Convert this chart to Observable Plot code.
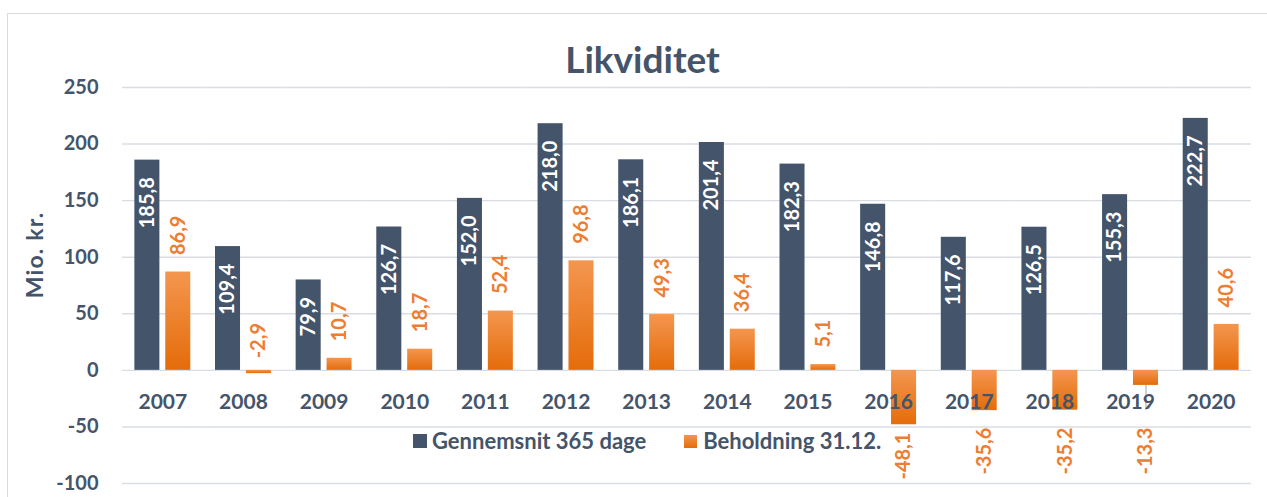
<!DOCTYPE html>
<html><head><meta charset="utf-8">
<script src="https://cdn.jsdelivr.net/npm/d3@7"></script>
<script src="https://cdn.jsdelivr.net/npm/@observablehq/plot@0.6"></script>
<style>
html,body{margin:0;padding:0;overflow:hidden;background:#fff;width:1267px;height:497px}
#wrap{position:relative;width:1267px;height:497px;font-family:Lato,sans-serif;color:#44546A}
#frame{position:absolute;left:7px;top:13px;width:1400px;height:600px;border:1.5px solid #D9D9D9;box-sizing:border-box}
#chart{position:absolute;left:0;top:0}
#chart svg text{font-weight:700}
#title{position:absolute;left:0;width:1285px;top:37px;text-align:center;font-weight:700;font-size:37px;line-height:44px}
#ylab{position:absolute;left:34px;top:255px;transform:translate(-50%,-50%) rotate(-90deg);font-weight:700;font-size:23px;letter-spacing:1.2px;line-height:26px;white-space:nowrap}
#legend{position:absolute;left:413px;top:428px;display:flex;align-items:center;font-weight:700;font-size:22px;line-height:26px;white-space:nowrap}
.sw{display:inline-block;width:14px;height:14px;margin-right:5px}
</style>
</head><body>
<div id="wrap">
  <div id="frame"></div>
  <div id="chart"></div>
  <div id="title"></div>
  <div id="ylab"></div>
  <div id="legend"></div>
</div>
<script>
const chartTitle = "Likviditet";
const yLabel = "Mio. kr.";
const years = ["2007","2008","2009","2010","2011","2012","2013","2014","2015","2016","2017","2018","2019","2020"];
const gennemsnit = [185.8,109.4,79.9,126.7,152.0,218.0,186.1,201.4,182.3,146.8,117.6,126.5,155.3,222.7];
const beholdning = [86.9,-2.9,10.7,18.7,52.4,96.8,49.3,36.4,5.1,-48.1,-35.6,-35.2,-13.3,40.6];
const seriesNames = ["Gennemsnit 365 dage","Beholdning 31.12."];
const seriesKeys = ["G","B"];
const yTicks = [250,200,150,100,50,0,-50,-100];

const DARK = "#44546A", ORANGE = "#ED7D31", GRID = "#D9DDE3";

const G = years.map((y,i)=>({year:y, series:"G", value:gennemsnit[i]}));
const B = years.map((y,i)=>({year:y, series:"B", value:beholdning[i]}));
const fmt = v => v.toFixed(1).replace(".", ",");
// label anchor for negative orange bars (avoid year labels)
const negPos = v => Math.max(Math.min(v, -35.5), -40);
const Bpos = B.filter(d => d.value >= 0);
const Bsmall = B.filter(d => d.value < 0 && d.value > -5);
const Bneg = B.filter(d => d.value <= -5);
const Blead = Bneg.filter(d => negPos(d.value) < d.value - 10);

const plot = Plot.plot({
  width: 1267, height: 497,
  marginLeft: 122, marginRight: 16, marginTop: 87, marginBottom: 14,
  style: {fontFamily: "Lato, sans-serif", background: "transparent", color: DARK, fontSize: "20px"},
  fx: {domain: years, padding: 0, round: false, axis: null},
  x: {domain: seriesKeys, paddingInner: 0.19, paddingOuter: 0.4, round: false, axis: null},
  y: {domain: [-100, 250], axis: null},
  marks: [
    Plot.ruleY(yTicks, {stroke: GRID, strokeWidth: 1.4}),
    Plot.axisY(yTicks, {tickSize: 0, tickPadding: 24, label: null, fontSize: 20, fill: DARK, tickFormat: d => String(d)}),
    Plot.barY(G, {fx: "year", x: "series", y: "value", fill: DARK}),
    Plot.barY(B, {fx: "year", x: "series", y: "value", fill: "url(#og)"}),
    Plot.ruleX(Blead, {fx: "year", x: "series", y1: "value", y2: d => negPos(d.value), stroke: "#A9B4C2", strokeWidth: 1.2}),
    Plot.text(years, {fx: d => d, y: () => 0, text: d => d, dy: 32, fontSize: 21, fill: DARK}),
    Plot.text(G, {fx: "year", x: "series", y: "value", text: d => fmt(d.value), rotate: -90, textAnchor: "end", dy: 17, fill: "white", fontSize: 20}),
    Plot.text(Bpos, {fx: "year", x: "series", y: "value", text: d => fmt(d.value), rotate: -90, textAnchor: "start", dy: -17, fill: ORANGE, fontSize: 20}),
    Plot.text(Bsmall, {fx: "year", x: "series", y: () => 0, text: d => fmt(d.value), rotate: -90, textAnchor: "start", dy: -12, fill: ORANGE, fontSize: 20}),
    Plot.text(Bneg, {fx: "year", x: "series", y: d => negPos(d.value), text: d => fmt(d.value), rotate: -90, textAnchor: "end", dy: 17, fill: ORANGE, fontSize: 20})
  ]
});

const defs = d3.select(plot).insert("defs", ":first-child");
const grad = defs.append("linearGradient").attr("id", "og").attr("x1", 0).attr("y1", 0).attr("x2", 0).attr("y2", 1);
grad.append("stop").attr("offset", "0%").attr("stop-color", "#F4964F");
grad.append("stop").attr("offset", "100%").attr("stop-color", "#E46C0A");

document.getElementById("chart").appendChild(plot);
document.getElementById("title").textContent = chartTitle;
document.getElementById("ylab").textContent = yLabel;

const legend = document.getElementById("legend");
const swatches = [DARK, "linear-gradient(#F4964F,#E46C0A)"];
seriesNames.forEach((name, i) => {
  const sw = document.createElement("span");
  sw.className = "sw";
  sw.style.background = swatches[i];
  if (i > 0) { sw.style.marginLeft = "38px"; sw.style.width = "13px"; sw.style.height = "13px"; sw.style.marginRight = "6px"; }
  const t = document.createElement("span");
  t.textContent = name;
  legend.appendChild(sw);
  legend.appendChild(t);
});
</script>
</body></html>
